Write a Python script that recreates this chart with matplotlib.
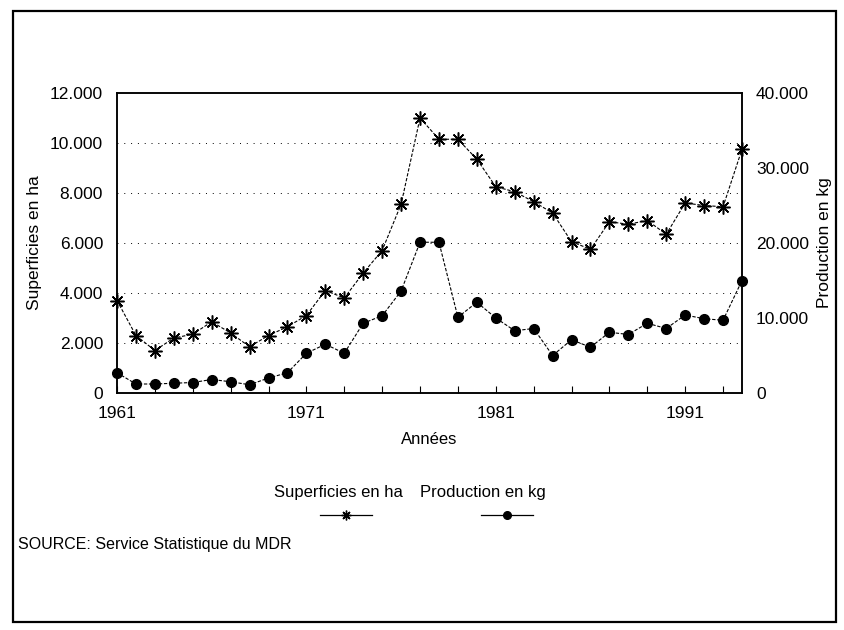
import matplotlib
matplotlib.use('Agg')
import matplotlib.pyplot as plt
import matplotlib.patches as patches
from matplotlib.lines import Line2D
from matplotlib.ticker import FuncFormatter, MultipleLocator

plt.rcParams['font.family'] = ['Liberation Sans', 'DejaVu Sans']

# data
years = list(range(1961, 1995))
superficies = [3700, 2300, 1700, 2200, 2350, 2850, 2400, 1850, 2300, 2650,
               3100, 4100, 3800, 4800, 5700, 7550, 11000, 10150, 10150, 9350,
               8250, 8050, 7650, 7200, 6050, 5750, 6850, 6750, 6900, 6350,
               7600, 7500, 7450, 9750]
production = [2700, 1200, 1200, 1300, 1400, 1800, 1500, 1100, 2000, 2700,
              5300, 6500, 5300, 9300, 10300, 13600, 20100, 20100, 10100, 12100,
              10000, 8300, 8600, 5000, 7100, 6100, 8100, 7800, 9300, 8600,
              10400, 9900, 9700, 15000]
year_labels = [1961, 1971, 1981, 1991]

star = (8, 2, 0)  # asterisk marker


def fr_thousands(v, pos):
    v = int(round(v))
    if v == 0:
        return "0"
    return "{:,}".format(v).replace(",", ".")


def fig_xy(px, py):
    # pixel position on the 844x630 page -> figure fraction
    return px / 844, 1 - py / 630


def legend_sample(cx, cy, marker, msize):
    x0, y = fig_xy(cx - 26, cy)
    x1, _ = fig_xy(cx + 26, cy)
    xc, _ = fig_xy(cx, cy)
    fig.lines.append(Line2D([x0, x1], [y, y], transform=fig.transFigure,
                            color='black', linewidth=0.9))
    fig.lines.append(Line2D([xc], [y], transform=fig.transFigure, color='black',
                            marker=marker, markersize=msize, linestyle='none'))


fig = plt.figure(figsize=(8.44, 6.30), dpi=100)
ax = fig.add_axes([117/844, 1-393/630, (742-117)/844, 300/630])
ax2 = ax.twinx()

# outer frame of the scanned page
fig.patches.append(patches.Rectangle(fig_xy(13, 622), (836-13)/844, (622-11)/630,
                                     transform=fig.transFigure, fill=False,
                                     edgecolor='black', linewidth=1.6))

line_style = dict(color='black', linewidth=0.8, linestyle=(0, (3, 1.5)))
ax.plot(years, superficies, marker=star, markersize=10, markeredgewidth=1.1,
        clip_on=False, zorder=4, **line_style)
ax2.plot(years, production, marker='o', markersize=7, clip_on=False, zorder=4,
         **line_style)

ax.set_xlim(1961, 1994)
ax.set_ylim(0, 12000)
ax2.set_ylim(0, 40000)

ax.yaxis.set_major_locator(MultipleLocator(2000))
ax2.yaxis.set_major_locator(MultipleLocator(10000))
ax.yaxis.set_major_formatter(FuncFormatter(fr_thousands))
ax2.yaxis.set_major_formatter(FuncFormatter(fr_thousands))

ax.set_xticks(range(1961, 1995, 2))
ax.set_xticklabels([str(y) if y in year_labels else "" for y in range(1961, 1995, 2)])
ax.tick_params(axis='x', direction='in', length=5, width=0.8, pad=9, labelsize=12.5)
ax.tick_params(axis='y', length=0, pad=10, labelsize=12.5)
ax2.tick_params(axis='y', length=0, pad=10, labelsize=12.5)

for y in range(2000, 12000, 2000):
    ax.axhline(y, color='black', linewidth=0.7, linestyle=(0, (1, 6)), zorder=1)

for a in (ax, ax2):
    for s in a.spines.values():
        s.set_linewidth(1.1)

ax.set_ylabel("Superficies en ha", fontsize=12.5, labelpad=6)
ax2.set_ylabel("Production en kg", fontsize=12.5, labelpad=6)
ax.set_xlabel("Années", fontsize=12, labelpad=8)

# legend in the style of the original: names above short samples
fig.text(*fig_xy(338, 493), "Superficies en ha", fontsize=12, ha='center', va='center')
fig.text(*fig_xy(483, 493), "Production en kg", fontsize=12, ha='center', va='center')
legend_sample(346, 515, star, 7)
legend_sample(507, 515, 'o', 5.5)

fig.text(*fig_xy(18, 545), "SOURCE: Service Statistique du MDR", fontsize=11.5,
         ha='left', va='center')

fig.savefig("out.png", dpi=100)
